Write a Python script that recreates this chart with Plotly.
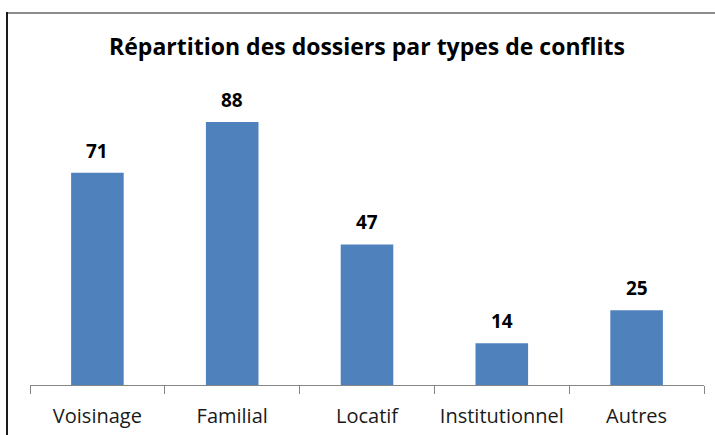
import plotly.graph_objects as go

categories = ["Voisinage", "Familial", "Locatif", "Institutionnel", "Autres"]
values = [71, 88, 47, 14, 25]
title_text = "Répartition des dossiers par types de conflits"

FONT = "Open Sans"
BAR_COLOR = "#4F81BD"

W, H = 715, 435
L, R, T, B = 30, 11, 86, 50
plot_w = W - L - R
plot_h = H - T - B

fig = go.Figure()
fig.add_trace(go.Bar(
    x=categories,
    y=values,
    marker=dict(color=BAR_COLOR, line=dict(width=0)),
    width=0.39,
    hoverinfo="x+y",
))

for c, v in zip(categories, values):
    fig.add_annotation(
        x=c, y=v, xref="x", yref="y",
        text=f"<b>{v}</b>",
        showarrow=False,
        yanchor="bottom",
        yshift=7,
        font=dict(family=FONT, size=19, color="#000000"),
    )

def px_x(p):
    return (p - L) / plot_w

def px_y(p):
    return (H - B - p) / plot_h

fig.add_shape(type="line", xref="paper", yref="paper",
              x0=px_x(7), x1=px_x(W + 5), y0=px_y(13), y1=px_y(13),
              line=dict(color="#8c8c8c", width=2))
fig.add_shape(type="line", xref="paper", yref="paper",
              x0=px_x(7), x1=px_x(7), y0=px_y(12), y1=px_y(H + 5),
              line=dict(color="#1a1a1a", width=2))

fig.update_layout(
    width=W, height=H,
    margin=dict(l=L, r=R, t=T, b=B, pad=0, autoexpand=False),
    paper_bgcolor="white",
    plot_bgcolor="white",
    showlegend=False,
    title=dict(
        text=f"<b>{title_text}</b>",
        x=0.5, xref="paper", xanchor="center",
        y=1 - 47 / H, yref="container", yanchor="middle",
        font=dict(family=FONT, size=23, color="#000000"),
        automargin=False,
    ),
    xaxis=dict(
        type="category",
        range=[-0.5, 4.5],
        automargin=False,
        showline=True, linecolor="#868686", linewidth=1,
        ticks="outside", tickson="boundaries", ticklen=8,
        tickcolor="#868686", tickwidth=1,
        showgrid=False, zeroline=False,
        tickfont=dict(family=FONT, size=20, color="#1a1a1a"),
        ticklabelstandoff=13,
        fixedrange=True,
    ),
    yaxis=dict(
        range=[0, 100],
        visible=False,
        automargin=False,
        showgrid=False, zeroline=False,
        fixedrange=True,
    ),
)

fig.write_html(
    "out.html",
    config={"displayModeBar": False},
    post_script="document.body.style.margin='0';document.body.style.overflow='hidden';",
)
